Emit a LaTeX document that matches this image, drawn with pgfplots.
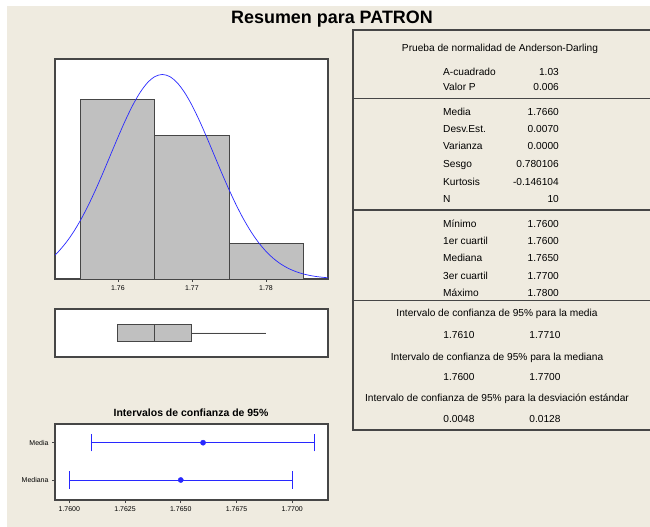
\documentclass[border=0pt]{standalone}
\usepackage{fontspec}
\setmainfont{Liberation Sans}
\usepackage{pgfplots}
\pgfplotsset{compat=1.18}
\usepgfplotslibrary{statistics}
\definecolor{bg}{RGB}{239,235,224}
\definecolor{bargray}{RGB}{192,192,192}
\definecolor{frame}{RGB}{70,70,70}
\definecolor{curveblue}{RGB}{40,40,255}
\begin{document}
\begin{tikzpicture}
\fill[white] (0,0) rectangle (650bp,527bp);
\fill[bg] (7bp,0) rectangle (650bp,521bp);
\node[font=\bfseries\fontsize{18}{20}\selectfont, anchor=base] at (332bp,503bp) {Resumen para PATRON};

\pgfplotsset{every axis/.append style={scale only axis, anchor=south west,
  axis background/.style={fill=white},
  axis line style={frame, line width=1.2pt},
  tick style={frame, line width=0.6pt},
  tick label style={font=\fontsize{7}{8}\selectfont},
  /pgf/number format/assume math mode=true}}

% Histogram
\begin{axis}[at={(55bp,248bp)}, width=273bp, height=220bp,
  xmin=1.7515, xmax=1.78838, ymin=0, ymax=6.13,
  xtick={1.76,1.77,1.78}, ytick=\empty, xtick pos=bottom,
  tick align=outside, major tick length=3bp]
\addplot[ybar, bar width=0.01, fill=bargray, draw=frame, line width=0.9pt]
  coordinates {(1.76,5) (1.77,4) (1.78,1)};
\addplot[curveblue, line width=0.7pt, smooth, no marks] coordinates {
(1.7515,0.667) (1.752,0.771) (1.753,1.016) (1.754,1.311) (1.755,1.658)
(1.756,2.054) (1.757,2.494) (1.758,2.966) (1.759,3.457) (1.760,3.947)
(1.761,4.416) (1.762,4.841) (1.763,5.199) (1.764,5.471) (1.765,5.641)
(1.766,5.699) (1.767,5.641) (1.768,5.471) (1.769,5.199) (1.770,4.841)
(1.771,4.416) (1.772,3.947) (1.773,3.457) (1.774,2.966) (1.775,2.494)
(1.776,2.054) (1.777,1.658) (1.778,1.311) (1.779,1.016) (1.780,0.771)
(1.781,0.574) (1.782,0.418) (1.783,0.298) (1.784,0.209) (1.785,0.143)
(1.786,0.096) (1.787,0.063) (1.788,0.041) (1.78838,0.033)};
\end{axis}

% Boxplot
\begin{axis}[at={(55bp,170bp)}, width=273bp, height=48bp,
  xmin=1.7515, xmax=1.78838, ymin=0, ymax=2, xtick=\empty, ytick=\empty]
\addplot[fill=bargray, draw=frame, line width=0.9pt,
  boxplot prepared={lower whisker=1.76, lower quartile=1.76, median=1.765,
    upper quartile=1.77, upper whisker=1.78, draw position=1,
    box extend=0.72, whisker extend=0}] coordinates {};
\end{axis}

% Confidence intervals
\node[font=\bfseries\fontsize{10.5}{12}\selectfont] at (191bp,114bp) {Intervalos de confianza de 95\%};
\begin{axis}[at={(55bp,27bp)}, width=273bp, height=76bp,
  xmin=1.759357, xmax=1.771606, ymin=0.464, ymax=2.501,
  xtick={1.76,1.7625,1.765,1.7675,1.77},
  xticklabel style={/pgf/number format/.cd, fixed, fixed zerofill, precision=4},
  ytick={1,2}, yticklabels={Mediana,Media},
  xtick pos=bottom, ytick pos=left, tick align=outside, major tick length=3bp]
% Media interval
\addplot[curveblue, line width=0.9pt] coordinates {(1.761,2) (1.771,2)};
\addplot[curveblue, line width=0.9pt] coordinates {(1.761,1.767) (1.761,2.233)};
\addplot[curveblue, line width=0.9pt] coordinates {(1.771,1.767) (1.771,2.233)};
% Mediana interval
\addplot[curveblue, line width=0.9pt] coordinates {(1.760,1) (1.770,1)};
\addplot[curveblue, line width=0.9pt] coordinates {(1.760,0.767) (1.760,1.233)};
\addplot[curveblue, line width=0.9pt] coordinates {(1.770,0.767) (1.770,1.233)};
% Point estimates
\addplot[curveblue, only marks, mark=*, mark size=2.6bp, mark options={fill=curveblue}]
  coordinates {(1.766,2) (1.765,1)};
\end{axis}

% Table
\draw[frame, line width=1.2pt] (353bp,97bp) rectangle (660bp,497bp);
\draw[frame, line width=1.2pt] (353bp,428.7bp) -- (660bp,428.7bp);
\draw[frame, line width=1.2pt] (353bp,317bp) -- (660bp,317bp);
\draw[frame, line width=1.2pt] (353bp,226.3bp) -- (660bp,226.3bp);
\begin{scope}[every node/.style={font=\fontsize{10.2}{12}\selectfont, inner sep=0pt}]
\node[anchor=mid] at (500bp,478bp) {Prueba de normalidad de Anderson-Darling};
\node[anchor=mid west] at (443bp,454.3bp) {A-cuadrado};
\node[anchor=mid east] at (559bp,454.3bp) {1.03};
\node[anchor=mid west] at (443bp,438.7bp) {Valor P};
\node[anchor=mid east] at (559bp,438.7bp) {0.006};
\node[anchor=mid west] at (443bp,414.3bp) {Media};
\node[anchor=mid east] at (559bp,414.3bp) {1.7660};
\node[anchor=mid west] at (443bp,397.5bp) {Desv.Est.};
\node[anchor=mid east] at (559bp,397.5bp) {0.0070};
\node[anchor=mid west] at (443bp,379.7bp) {Varianza};
\node[anchor=mid east] at (559bp,379.7bp) {0.0000};
\node[anchor=mid west] at (443bp,362bp) {Sesgo};
\node[anchor=mid east] at (559bp,362bp) {0.780106};
\node[anchor=mid west] at (443bp,344.3bp) {Kurtosis};
\node[anchor=mid east] at (559bp,344.3bp) {-0.146104};
\node[anchor=mid west] at (443bp,327bp) {N};
\node[anchor=mid east] at (559bp,327bp) {10};
\node[anchor=mid west] at (443bp,302bp) {Mínimo};
\node[anchor=mid east] at (559bp,302bp) {1.7600};
\node[anchor=mid west] at (443bp,285bp) {1er cuartil};
\node[anchor=mid east] at (559bp,285bp) {1.7600};
\node[anchor=mid west] at (443bp,267.7bp) {Mediana};
\node[anchor=mid east] at (559bp,267.7bp) {1.7650};
\node[anchor=mid west] at (443bp,250.3bp) {3er cuartil};
\node[anchor=mid east] at (559bp,250.3bp) {1.7700};
\node[anchor=mid west] at (443bp,232.7bp) {Máximo};
\node[anchor=mid east] at (559bp,232.7bp) {1.7800};
\node[anchor=mid] at (497bp,212.7bp) {Intervalo de confianza de 95\% para la media};
\node[anchor=mid] at (459bp,191.3bp) {1.7610};
\node[anchor=mid] at (545bp,191.3bp) {1.7710};
\node[anchor=mid] at (497bp,169.3bp) {Intervalo de confianza de 95\% para la mediana};
\node[anchor=mid] at (459bp,148.7bp) {1.7600};
\node[anchor=mid] at (545bp,148.7bp) {1.7700};
\node[anchor=mid] at (497bp,127.7bp) {Intervalo de confianza de 95\% para la desviación estándar};
\node[anchor=mid] at (459bp,107bp) {0.0048};
\node[anchor=mid] at (545bp,107bp) {0.0128};
\end{scope}
\pgfresetboundingbox
\useasboundingbox (0,0) rectangle (650bp,527bp);
\end{tikzpicture}
\end{document}
